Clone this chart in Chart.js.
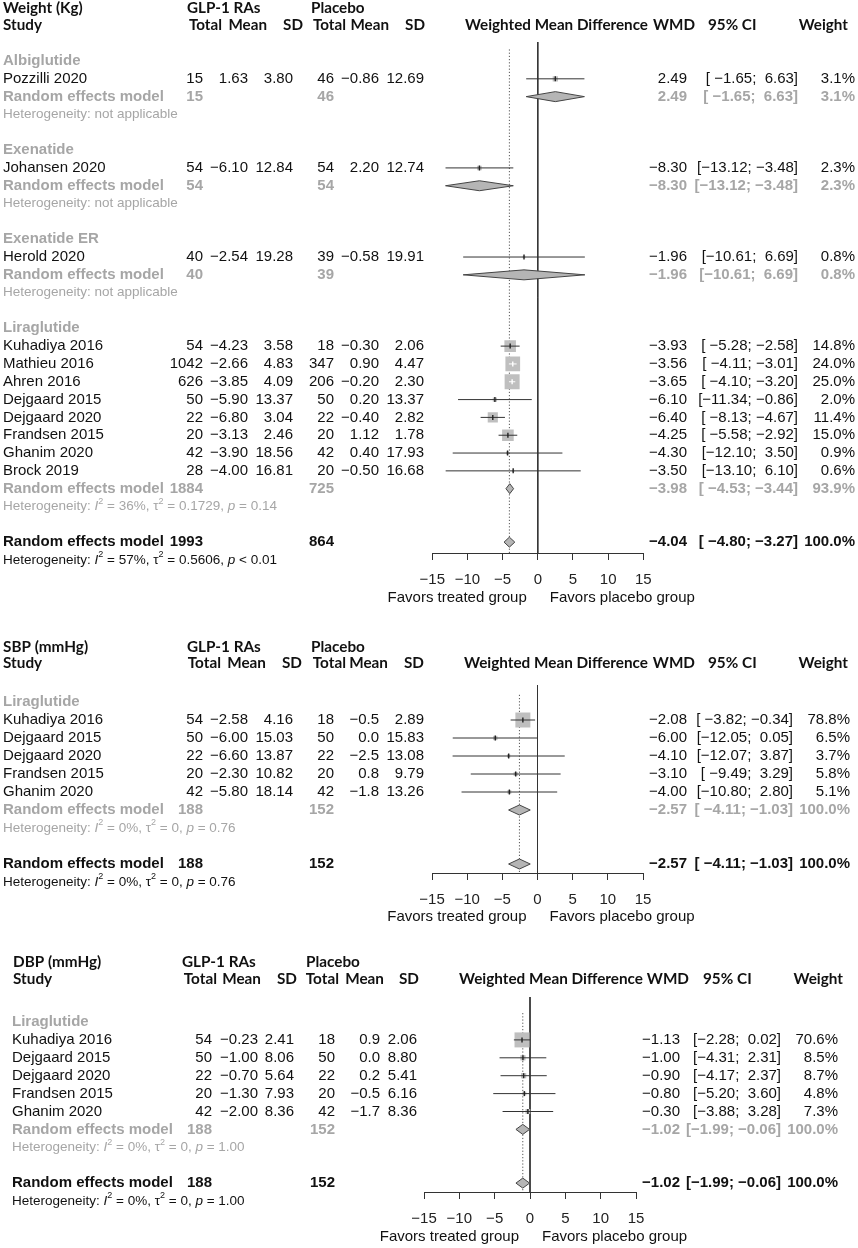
<!DOCTYPE html>
<html>
<head>
<meta charset="utf-8">
<script src="https://cdn.jsdelivr.net/npm/chart.js@4.4.0/dist/chart.umd.min.js"></script>
<style>
  body { margin: 0; background: #fff; }
  #wrap { position: relative; width: 858px; height: 1248px; }
  canvas { position: absolute; left: 0; }
</style>
</head>
<body>
<div id="wrap">
  <canvas id="c1" width="858" height="615" style="top:0px"></canvas>
  <canvas id="c2" width="858" height="320" style="top:615px"></canvas>
  <canvas id="c3" width="858" height="313" style="top:935px"></canvas>
</div>
<script>
// ---- Weight (Kg) ----
const wtGroups = ["Albiglutide", "Exenatide", "Exenatide ER", "Liraglutide"];
const wtStudy = ["Pozzilli 2020", "Johansen 2020", "Herold 2020", "Kuhadiya 2016", "Mathieu 2016", "Ahren 2016",
  "Dejgaard 2015", "Dejgaard 2020", "Frandsen 2015", "Ghanim 2020", "Brock 2019"];
const wtGroupIdx = [0, 1, 2, 3, 3, 3, 3, 3, 3, 3, 3];
const wtNT = [15, 54, 40, 54, 1042, 626, 50, 22, 20, 42, 28];
const wtMeanT = [1.63, -6.10, -2.54, -4.23, -2.66, -3.85, -5.90, -6.80, -3.13, -3.90, -4.00];
const wtSdT = [3.80, 12.84, 19.28, 3.58, 4.83, 4.09, 13.37, 3.04, 2.46, 18.56, 16.81];
const wtNC = [46, 54, 39, 18, 347, 206, 50, 22, 20, 42, 20];
const wtMeanC = [-0.86, 2.20, -0.58, -0.30, 0.90, -0.20, 0.20, -0.40, 1.12, 0.40, -0.50];
const wtSdC = [12.69, 12.74, 19.91, 2.06, 4.47, 2.30, 13.37, 2.82, 1.78, 17.93, 16.68];
const wtWmd = [2.49, -8.30, -1.96, -3.93, -3.56, -3.65, -6.10, -6.40, -4.25, -4.30, -3.50];
const wtLo = [-1.65, -13.12, -10.61, -5.28, -4.11, -4.10, -11.34, -8.13, -5.58, -12.10, -13.10];
const wtHi = [6.63, -3.48, 6.69, -2.58, -3.01, -3.20, -0.86, -4.67, -2.92, 3.50, 6.10];
const wtWeight = [3.1, 2.3, 0.8, 14.8, 24.0, 25.0, 2.0, 11.4, 15.0, 0.9, 0.6];
const wtSubNT = [15, 54, 40, 1884];
const wtSubNC = [46, 54, 39, 725];
const wtSubWmd = [2.49, -8.30, -1.96, -3.98];
const wtSubLo = [-1.65, -13.12, -10.61, -4.53];
const wtSubHi = [6.63, -3.48, 6.69, -3.44];
const wtSubWeight = [3.1, 2.3, 0.8, 93.9];
const wtSubHet = [null, null, null, ["36%", "0.1729", "= 0.14"]];
const wtAll = [1993, 864, -4.04, -4.80, -3.27, 100.0];
const wtAllHet = ["57%", "0.5606", "< 0.01"];

// ---- SBP (mmHg) ----
const sbpGroups = ["Liraglutide"];
const sbpStudy = ["Kuhadiya 2016", "Dejgaard 2015", "Dejgaard 2020", "Frandsen 2015", "Ghanim 2020"];
const sbpGroupIdx = [0, 0, 0, 0, 0];
const sbpNT = [54, 50, 22, 20, 42];
const sbpMeanT = [-2.58, -6.00, -6.60, -2.30, -5.80];
const sbpSdT = [4.16, 15.03, 13.87, 10.82, 18.14];
const sbpNC = [18, 50, 22, 20, 42];
const sbpMeanC = [-0.5, 0.0, -2.5, 0.8, -1.8];
const sbpSdC = [2.89, 15.83, 13.08, 9.79, 13.26];
const sbpWmd = [-2.08, -6.00, -4.10, -3.10, -4.00];
const sbpLo = [-3.82, -12.05, -12.07, -9.49, -10.80];
const sbpHi = [-0.34, 0.05, 3.87, 3.29, 2.80];
const sbpWeight = [78.8, 6.5, 3.7, 5.8, 5.1];
const sbpSubNT = [188];
const sbpSubNC = [152];
const sbpSubWmd = [-2.57];
const sbpSubLo = [-4.11];
const sbpSubHi = [-1.03];
const sbpSubWeight = [100.0];
const sbpSubHet = [["0%", "0", "= 0.76"]];
const sbpAll = [188, 152, -2.57, -4.11, -1.03, 100.0];
const sbpAllHet = ["0%", "0", "= 0.76"];

// ---- DBP (mmHg) ----
const dbpGroups = ["Liraglutide"];
const dbpStudy = ["Kuhadiya 2016", "Dejgaard 2015", "Dejgaard 2020", "Frandsen 2015", "Ghanim 2020"];
const dbpGroupIdx = [0, 0, 0, 0, 0];
const dbpNT = [54, 50, 22, 20, 42];
const dbpMeanT = [-0.23, -1.00, -0.70, -1.30, -2.00];
const dbpSdT = [2.41, 8.06, 5.64, 7.93, 8.36];
const dbpNC = [18, 50, 22, 20, 42];
const dbpMeanC = [0.9, 0.0, 0.2, -0.5, -1.7];
const dbpSdC = [2.06, 8.80, 5.41, 6.16, 8.36];
const dbpWmd = [-1.13, -1.00, -0.90, -0.80, -0.30];
const dbpLo = [-2.28, -4.31, -4.17, -5.20, -3.88];
const dbpHi = [0.02, 2.31, 2.37, 3.60, 3.28];
const dbpWeight = [70.6, 8.5, 8.7, 4.8, 7.3];
const dbpSubNT = [188];
const dbpSubNC = [152];
const dbpSubWmd = [-1.02];
const dbpSubLo = [-1.99];
const dbpSubHi = [-0.06];
const dbpSubWeight = [100.0];
const dbpSubHet = [["0%", "0", "= 1.00"]];
const dbpAll = [188, 152, -1.02, -1.99, -0.06, 100.0];
const dbpAllHet = ["0%", "0", "= 1.00"];

const GRAY = "#a6a6a6";
const INK = "#111";
const BODY = "'Liberation Sans', Arial, sans-serif";
const HEAD = "Lato, sans-serif";
const AXIS_H = 44;

const panels = [
  { id: "c1", title: "Weight (Kg)", groups: wtGroups, study: wtStudy, gidx: wtGroupIdx,
    nT: wtNT, meanT: wtMeanT, sdT: wtSdT, nC: wtNC, meanC: wtMeanC, sdC: wtSdC, decC: 2,
    wmd: wtWmd, lo: wtLo, hi: wtHi, weight: wtWeight,
    subNT: wtSubNT, subNC: wtSubNC, subWmd: wtSubWmd, subLo: wtSubLo, subHi: wtSubHi, subWeight: wtSubWeight, subHet: wtSubHet,
    all: wtAll, allHet: wtAllHet,
    L: { x0: 432.3, x1: 643.3, row0: 61, step: 17.82, axisY: 553, yTop: -1.07, dotTop: -0.65, h: 615,
      head1: 8, head2: 25, titleX: 3, studyX: 3, cols: [203, 248, 293, 334, 379, 424], hcols: [222, 267, 303, 346, 389, 425],
      glpX: 187, plcX: 311, wmdHC: 556.5, wmdHW: 183, wmdHR: 695, ciHL: 708, wtHR: 848, wmdX: 687, ciX: 798, wX: 855, favY: 598 } },
  { id: "c2", title: "SBP (mmHg)", groups: sbpGroups, study: sbpStudy, gidx: sbpGroupIdx,
    nT: sbpNT, meanT: sbpMeanT, sdT: sbpSdT, nC: sbpNC, meanC: sbpMeanC, sdC: sbpSdC, decC: 1,
    wmd: sbpWmd, lo: sbpLo, hi: sbpHi, weight: sbpWeight,
    subNT: sbpSubNT, subNC: sbpSubNC, subWmd: sbpSubWmd, subLo: sbpSubLo, subHi: sbpSubHi, subWeight: sbpSubWeight, subHet: sbpSubHet,
    all: sbpAll, allHet: sbpAllHet,
    L: { x0: 432, x1: 643, row0: 87, step: 18, axisY: 258, yTop: -0.95, dotTop: -0.4, h: 320,
      head1: 32, head2: 48, titleX: 3, studyX: 3, cols: [203, 248, 293, 334, 379, 424], hcols: [221, 266, 302, 346, 388, 424],
      glpX: 187, plcX: 311, wmdHC: 556, wmdHW: 184, wmdHR: 695, ciHL: 708, wtHR: 848, wmdX: 687, ciX: 793, wX: 850, favY: 302 } },
  { id: "c3", title: "DBP (mmHg)", groups: dbpGroups, study: dbpStudy, gidx: dbpGroupIdx,
    nT: dbpNT, meanT: dbpMeanT, sdT: dbpSdT, nC: dbpNC, meanC: dbpMeanC, sdC: dbpSdC, decC: 1,
    wmd: dbpWmd, lo: dbpLo, hi: dbpHi, weight: dbpWeight,
    subNT: dbpSubNT, subNC: dbpSubNC, subWmd: dbpSubWmd, subLo: dbpSubLo, subHi: dbpSubHi, subWeight: dbpSubWeight, subHet: dbpSubHet,
    all: dbpAll, allHet: dbpAllHet,
    L: { x0: 424, x1: 636, row0: 87, step: 17.9, axisY: 257, yTop: -1.4, dotTop: -0.5, h: 313,
      head1: 27, head2: 44, titleX: 13, studyX: 12, cols: [212, 258, 294, 335, 380, 417], hcols: [217, 261, 297, 339, 384, 419],
      glpX: 182, plcX: 306, wmdHC: 551, wmdHW: 184, wmdHR: 689, ciHL: 703, wtHR: 843, wmdX: 680, ciX: 781, wX: 838, favY: 302 } }
];

function num(v, d) {
  return (v < 0 ? "\u2212" : "") + Math.abs(v).toFixed(d);
}
function padL(s, n) {
  while (s.length < n) s = " " + s;
  return s;
}

function buildRows(p) {
  const rows = [];
  let r = 0;
  p.groups.forEach((g, gi) => {
    rows.push({ kind: "group", r: r++, gi });
    p.study.forEach((s, i) => { if (p.gidx[i] === gi) rows.push({ kind: "study", r: r++, i }); });
    rows.push({ kind: "sub", r: r++, gi });
    rows.push({ kind: "subhet", r: r++, gi });
    r++;
  });
  rows.push({ kind: "all", r: r++ });
  rows.push({ kind: "allhet", r: r++ });
  return rows;
}

function txt(ctx, s, x, y, align, font, color, sx) {
  ctx.font = font;
  ctx.fillStyle = color;
  ctx.textAlign = align;
  ctx.textBaseline = "middle";
  if (sx) {
    // narrow the header face a bit, like Calibri
    ctx.save();
    ctx.translate(x, y);
    ctx.scale(sx, 1);
    ctx.fillText(s, 0, 0);
    ctx.restore();
  } else {
    ctx.fillText(s, x, y);
  }
}

function drawHet(ctx, x, y, het, color) {
  const f = "13.5px " + BODY, fi = "italic 13.5px " + BODY, fs = "9px " + BODY;
  let parts;
  if (!het) parts = [["Heterogeneity: not applicable", f, 0]];
  else parts = [["Heterogeneity: ", f, 0], ["I", fi, 0], ["2", fs, -5], [" = " + het[0] + ", ", f, 0],
    ["\u03c4", f, 0], ["2", fs, -5], [" = " + het[1] + ", ", f, 0], ["p", fi, 0], [" " + het[2], f, 0]];
  ctx.fillStyle = color;
  ctx.textAlign = "left";
  ctx.textBaseline = "middle";
  parts.forEach(([s, font, dy]) => {
    ctx.font = font;
    ctx.fillText(s, x, y + dy);
    x += ctx.measureText(s).width;
  });
}

function makeChart(p) {
  const L = p.L;
  const rows = buildRows(p);
  const yMax = (L.axisY - L.row0) / L.step;
  const pxPerUnit = (L.x1 - L.x0) / 30;
  const maxW = Math.max(...p.weight);
  const allRow = rows.find(o => o.kind === "all").r;

  // CI label widths (R style padding)
  const los = p.lo.concat(p.subLo, [p.all[3]]).map(v => num(v, 2));
  const his = p.hi.concat(p.subHi, [p.all[4]]).map(v => num(v, 2));
  const loW = Math.max(...los.map(s => s.length));
  const hiW = Math.max(...his.map(s => s.length));
  const ci = (lo, hi) => "[" + padL(num(lo, 2), loW) + "; " + padL(num(hi, 2), hiW) + "]";

  const datasets = [];
  // zero line
  datasets.push({ data: [{ x: 0, y: L.yTop }, { x: 0, y: yMax }], showLine: true, pointRadius: 0,
    borderColor: "#333", borderWidth: 1, order: 6 });
  // dotted line at overall estimate
  datasets.push({ data: [{ x: p.all[2], y: L.dotTop }, { x: p.all[2], y: yMax }], showLine: true, pointRadius: 0,
    borderColor: "#555", borderWidth: 1, borderDash: [1.2, 2], order: 7 });

  const sq = [], sqR = [], tick = [], tickCol = [];
  rows.filter(o => o.kind === "study").forEach(o => {
    const i = o.i;
    const side = 15 * Math.sqrt(p.weight[i] / maxW);
    const inside = (p.hi[i] - p.lo[i]) * pxPerUnit < side;
    sq.push({ x: p.wmd[i], y: o.r });
    sqR.push(side / Math.SQRT2);
    tick.push({ x: p.wmd[i], y: o.r });
    tickCol.push(inside ? "#fff" : "#222");
    datasets.push({ data: [{ x: p.lo[i], y: o.r }, { x: p.hi[i], y: o.r }], showLine: true, pointRadius: 0,
      borderColor: inside ? "#fff" : "#333", borderWidth: 1, order: 3 });
  });
  datasets.push({ data: sq, pointStyle: "rect", pointRadius: sqR, backgroundColor: "#bfbfbf", borderWidth: 0, order: 4 });
  datasets.push({ data: tick, pointStyle: "line", rotation: 90, pointRadius: 2.5, borderColor: tickCol,
    borderWidth: 1.4, order: 2 });

  const diamond = (est, lo, hi, r) => {
    const h = 0.28;
    datasets.push({ data: [{ x: lo, y: r }, { x: est, y: r - h }, { x: hi, y: r }, { x: est, y: r + h }, { x: lo, y: r }],
      showLine: true, pointRadius: 0, fill: "shape", backgroundColor: "#b5b5b5", borderColor: "#444",
      borderWidth: 1, order: 1 });
  };
  rows.filter(o => o.kind === "sub").forEach(o => diamond(p.subWmd[o.gi], p.subLo[o.gi], p.subHi[o.gi], o.r));
  diamond(p.all[2], p.all[3], p.all[4], allRow);

  const textPlugin = {
    id: "forestText",
    afterDraw(chart) {
      const ctx = chart.ctx;
      const ys = chart.scales.y, xs = chart.scales.x;
      ctx.save();
      // headers
      const hf = "bold 16px " + HEAD;
      ctx.font = hf;
      const sx = L.wmdHW / ctx.measureText("Weighted Mean Difference").width;
      txt(ctx, p.title, L.titleX, L.head1, "left", hf, INK, sx);
      txt(ctx, "Study", L.titleX, L.head2, "left", hf, INK, sx);
      txt(ctx, "GLP-1 RAs", L.glpX, L.head1, "left", hf, INK, sx);
      txt(ctx, "Placebo", L.plcX, L.head1, "left", hf, INK, sx);
      ["Total", "Mean", "SD", "Total", "Mean", "SD"].forEach((s, k) => txt(ctx, s, L.hcols[k], L.head2, "right", hf, INK, sx));
      txt(ctx, "Weighted Mean Difference", L.wmdHC, L.head2, "center", hf, INK, sx);
      txt(ctx, "WMD", L.wmdHR, L.head2, "right", hf, INK, sx);
      txt(ctx, "95% CI", L.ciHL, L.head2, "left", hf, INK, sx);
      txt(ctx, "Weight", L.wtHR, L.head2, "right", hf, INK, sx);

      const f = "15px " + BODY, fb = "bold 15px " + BODY;
      rows.forEach(o => {
        const y = ys.getPixelForValue(o.r);
        if (o.kind === "group") {
          txt(ctx, p.groups[o.gi], L.studyX, y, "left", fb, GRAY);
        } else if (o.kind === "study") {
          const i = o.i;
          txt(ctx, p.study[i], L.studyX, y, "left", f, INK);
          const vals = [String(p.nT[i]), num(p.meanT[i], 2), p.sdT[i].toFixed(2),
            String(p.nC[i]), num(p.meanC[i], p.decC), p.sdC[i].toFixed(2)];
          vals.forEach((s, k) => txt(ctx, s, L.cols[k], y, "right", f, INK));
          txt(ctx, num(p.wmd[i], 2), L.wmdX, y, "right", f, INK);
          txt(ctx, ci(p.lo[i], p.hi[i]), L.ciX, y, "right", f, INK);
          txt(ctx, p.weight[i].toFixed(1) + "%", L.wX, y, "right", f, INK);
        } else if (o.kind === "sub" || o.kind === "all") {
          const sub = o.kind === "sub";
          const col = sub ? GRAY : INK;
          const v = sub ? [p.subNT[o.gi], p.subNC[o.gi], p.subWmd[o.gi], p.subLo[o.gi], p.subHi[o.gi], p.subWeight[o.gi]] : p.all;
          txt(ctx, "Random effects model", L.studyX, y, "left", fb, col);
          txt(ctx, String(v[0]), L.cols[0], y, "right", fb, col);
          txt(ctx, String(v[1]), L.cols[3], y, "right", fb, col);
          txt(ctx, num(v[2], 2), L.wmdX, y, "right", fb, col);
          txt(ctx, ci(v[3], v[4]), L.ciX, y, "right", fb, col);
          txt(ctx, v[5].toFixed(1) + "%", L.wX, y, "right", fb, col);
        } else if (o.kind === "subhet") {
          drawHet(ctx, L.studyX, y, p.subHet[o.gi], GRAY);
        } else if (o.kind === "allhet") {
          drawHet(ctx, L.studyX, y, p.allHet, INK);
        }
      });
      // favors labels
      const x0 = xs.getPixelForValue(0);
      txt(ctx, "Favors treated group", x0 - 11, L.favY, "right", f, INK);
      txt(ctx, "Favors placebo group", x0 + 12, L.favY, "left", f, INK);
      ctx.restore();
    }
  };

  return new Chart(document.getElementById(p.id).getContext("2d"), {
    type: "scatter",
    data: { datasets },
    options: {
      responsive: false,
      animation: false,
      devicePixelRatio: 1,
      layout: { padding: { left: L.x0, right: 858 - L.x1, top: L.row0 + L.yTop * L.step, bottom: L.h - L.axisY - AXIS_H } },
      plugins: { legend: { display: false }, tooltip: { enabled: false } },
      scales: {
        x: {
          type: "linear", min: -15, max: 15,
          afterFit: s => { s.height = AXIS_H; },
          grid: { display: true, drawOnChartArea: false, drawTicks: true, tickLength: 7, color: "#333" },
          border: { display: true, color: "#333", width: 1 },
          ticks: { stepSize: 5, autoSkip: false, maxRotation: 0, padding: 11, color: "#222",
            font: { family: BODY, size: 15 }, callback: v => String(v).replace("-", "\u2212") }
        },
        y: { type: "linear", display: false, reverse: true, min: L.yTop, max: yMax }
      }
    },
    plugins: [textPlugin]
  });
}

panels.forEach(makeChart);
</script>
</body>
</html>
